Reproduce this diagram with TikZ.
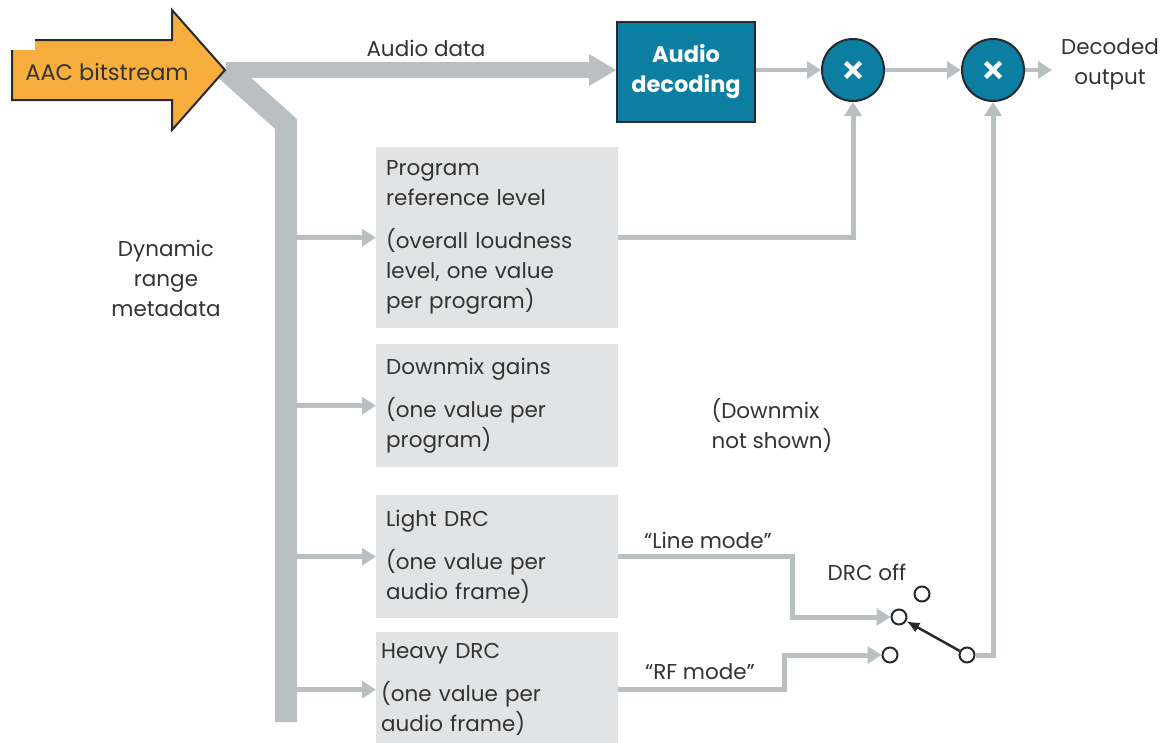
\documentclass[tikz,border=0pt]{standalone}
\usepackage{fontspec}
\setmainfont{Poppins}
\usetikzlibrary{arrows.meta,calc}
\definecolor{aacorange}{HTML}{F8AE3C}
\definecolor{decteal}{HTML}{0B7EA2}
\definecolor{pipe}{HTML}{BAC0C1}
\definecolor{panel}{HTML}{E1E3E4}
\definecolor{ink}{HTML}{333333}
\definecolor{edge}{HTML}{262A2C}
\begin{document}
\begin{tikzpicture}[x=1pt,y=-1pt,
  font=\fontsize{21.5}{30}\selectfont, text=ink,
  conn/.style={draw=pipe, line width=5pt, -{Triangle[length=14pt,width=17pt]}},
  infobox/.style={fill=panel, anchor=north west, minimum width=242pt,
    text width=222pt, align=left, inner xsep=10pt, inner ysep=8pt},
  mult/.style={circle, fill=decteal, draw=edge, line width=2pt, minimum size=62pt,
    inner sep=0pt,
    path picture={\draw[white, line width=4.5pt]
      ($(path picture bounding box.center)+(-7.5,-7.5)$) -- ($(path picture bounding box.center)+(7.5,7.5)$)
      ($(path picture bounding box.center)+(-7.5,7.5)$) -- ($(path picture bounding box.center)+(7.5,-7.5)$);}},
  contact/.style={circle, draw=edge, line width=2pt, fill=white, minimum size=15pt, inner sep=0pt},
  label/.style={align=center, inner sep=0pt}
]
\clip (0,0) rectangle (1165,742);

% trunk of the bitstream: audio path and metadata path
\coordinate (split) at (226,70);
\coordinate (bend) at (286,124);
\coordinate (foot) at (286,722);
\draw[draw=pipe, line width=16pt] (split) -- (592,70);
\fill[pipe] (589,54) -- (616,70) -- (589,86) -- cycle;
\draw[draw=pipe, line width=22pt, line join=miter] (split) -- (bend) -- (foot);

% input arrow
\draw[fill=aacorange, draw=edge, line width=2pt, line join=miter]
  (12,40) -- (172,40) -- (172,10) -- (225,70) -- (172,130) -- (172,100) -- (12,100) -- cycle;
\fill[white] (10,37) rectangle (35,50);
\node[label, font=\fontsize{22.5}{26}\selectfont] (aac) at (107,72) {AAC bitstream};
\node[label] (adata) at (426,48) {Audio data};

% decoder and gain stages
\node[fill=decteal, draw=edge, line width=2pt, minimum width=138pt, minimum height=100pt,
  text=white, align=center, font=\fontsize{22.5}{30}\selectfont\bfseries] (dec) at (686,72) {Audio\\decoding};
\node[mult] (m1) at (853,70) {};
\node[mult] (m2) at (993,70) {};
\node[label] (out) at (1110,64) {Decoded\\output};
\coordinate (outin) at (1052,70);

\draw[conn, line width=4pt] (dec.east |- m1.west) -- (m1.west);
\draw[conn, line width=4pt] (m1.east) -- (m2.west);
\draw[conn, line width=4pt] (m2.east) -- (outin);

% metadata panels
\node[infobox, minimum height=181pt] (prl) at (376,147)
  {Program\\reference level\\[13pt](overall loudness\\level, one value\\per program)};
\node[infobox, minimum height=123pt] (dmx) at (376,344)
  {Downmix gains\\[13pt](one value per\\program)};
\node[infobox, minimum height=123pt] (light) at (376,495)
  {Light DRC\\[13pt](one value per\\audio frame)};
\node[infobox, minimum height=115pt, inner xsep=5pt, text width=232pt] (heavy) at (376,632)
  {Heavy DRC\\[13pt](one value per\\audio frame)};

\node[label] (dyn) at (166,278) {Dynamic\\range\\metadata};
\node[label, align=left] (dmxnote) at (772,425) {(Downmix\\not shown)};

% taps off the metadata trunk
\foreach \b in {prl,dmx,light,heavy}
  \draw[conn] (297,0 |- \b.west) -- (\b.west);

% program reference level into the first gain stage
\draw[conn] (prl.east) -- (prl.east -| m1) -- (m1.south);

% DRC mode switch
\node[contact] (sline) at (899,617) {};
\node[contact] (srf) at (890,655) {};
\node[contact] (soff) at (922,594) {};
\node[contact] (pivot) at (967,655) {};
\node[label] (drcoff) at (867,572) {DRC off};
\node[label] (lmode) at (708,540) {“Line mode”};
\node[label] (rmode) at (700,672) {“RF mode”};

\draw[conn] (light.east) -- (792,0 |- light.east) |- (sline.west);
\draw[conn] (heavy.east |- 0,689) -- (784,689) |- (srf.west);
\draw[draw=edge, line width=2.5pt, -{Latex[length=13pt,width=11pt]}] (pivot) -- (sline);
\draw[conn] (pivot.east) -| (m2.south);
\end{tikzpicture}
\end{document}
